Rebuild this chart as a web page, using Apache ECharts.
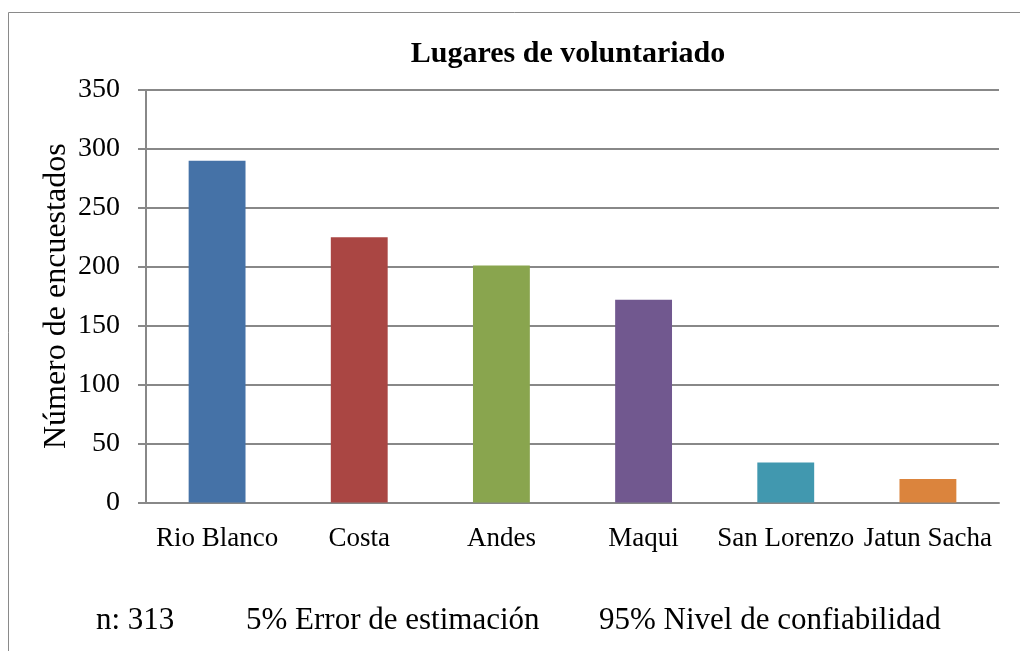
<!DOCTYPE html>
<html>
<head>
<meta charset="utf-8">
<script src="https://cdn.jsdelivr.net/npm/echarts@6/dist/echarts.min.js"></script>
<style>
html,body{margin:0;padding:0;background:#fff;}
#main{width:1020px;height:651px;}
</style>
</head>
<body>
<div id="main"></div>
<script>
var categories = ['Rio Blanco', 'Costa', 'Andes', 'Maqui', 'San Lorenzo', 'Jatun Sacha'];
var values = [290, 225, 201, 172, 34, 20];
var yTicks = [0, 50, 100, 150, 200, 250, 300, 350];
var footnotes = ['n: 313', '5% Error de estimación', '95% Nivel de confiabilidad'];
var titleText = 'Lugares de voluntariado';
var yAxisName = 'Número de encuestados';

var barColors = ['#4572A7', '#AA4643', '#89A54E', '#71588F', '#4198AF', '#DB843D'];
var FONT = '"Liberation Serif", "Times New Roman", serif';
var LINE = '#888888';

var chart = echarts.init(document.getElementById('main'), null, {renderer: 'canvas'});
var footX = [96, 246, 599];
chart.setOption({
  animation: false,
  backgroundColor: '#ffffff',
  title: {
    text: titleText,
    left: 563, top: 34,
    textAlign: 'center',
    textStyle: {fontFamily: FONT, fontWeight: 'bold', fontSize: 30, color: '#000'}
  },
  grid: {left: 146, right: 21, top: 90, bottom: 148.5, containLabel: false},
  xAxis: {
    type: 'category',
    data: categories,
    axisLine: {lineStyle: {color: LINE, width: 2}},
    axisTick: {show: false},
    axisLabel: {fontFamily: FONT, fontSize: 27, color: '#000', margin: 23, interval: 0}
  },
  yAxis: {
    type: 'value',
    min: yTicks[0], max: yTicks[yTicks.length - 1], interval: yTicks[1] - yTicks[0],
    name: yAxisName,
    nameLocation: 'middle',
    nameRotate: 90,
    nameGap: 73,
    nameMoveOverlap: false,
    nameTextStyle: {fontFamily: FONT, fontSize: 32, color: '#000'},
    axisLine: {show: true, lineStyle: {color: LINE, width: 2}},
    axisTick: {show: true, inside: false, length: 8, lineStyle: {color: LINE, width: 2}},
    splitLine: {lineStyle: {color: LINE, width: 2}},
    axisLabel: {fontFamily: FONT, fontSize: 28, color: '#000', margin: 26}
  },
  series: [{
    type: 'bar',
    data: values.map(function (v, i) { return {value: v, itemStyle: {color: barColors[i]}}; }),
    barWidth: '40%'
  }],
  graphic: [
    {type: 'rect', shape: {x: 8.5, y: 12.5, width: 1100, height: 700}, style: {fill: 'none', stroke: '#8a8a8a', lineWidth: 1}, silent: true}
  ].concat(footnotes.map(function (t, i) {
    return {type: 'text', left: footX[i], top: 605, style: {text: t, font: '31px ' + FONT, fill: '#000'}};
  }))
});
</script>
</body>
</html>
